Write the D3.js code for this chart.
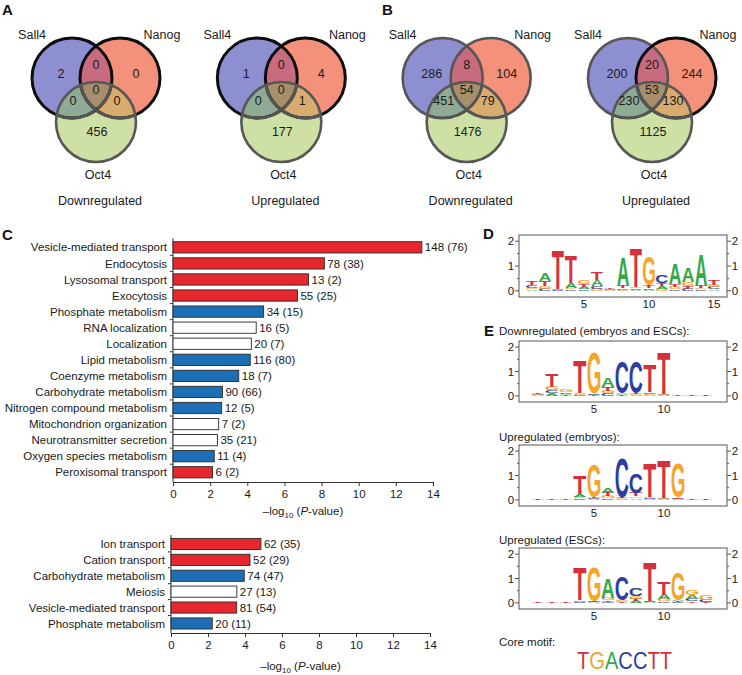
<!DOCTYPE html>
<html><head><meta charset="utf-8">
<script src="https://cdn.jsdelivr.net/npm/d3@7"></script>
<style>
body{margin:0;background:#fff;}
svg{display:block;font-family:"Liberation Sans",Arial,Helvetica,sans-serif;}
</style></head><body>
<svg id="fig" width="742" height="675"></svg>
<script>
// ---------------- DATA ----------------
const vennSets = ["Sall4", "Nanog", "Oct4"];
const vennTitles = ["Downregulated", "Upregulated", "Downregulated", "Upregulated"];
// region order: Sall4 only, Nanog only, Oct4 only, Sall4∩Nanog, Sall4∩Oct4, Nanog∩Oct4, all three
const vennCounts = [
  [2, 0, 456, 0, 0, 0, 0],
  [1, 4, 177, 0, 0, 1, 0],
  [286, 104, 1476, 8, 451, 79, 54],
  [200, 244, 1125, 20, 230, 130, 53]
];
const vennHighlighted = [["Sall4", "Nanog"], ["Sall4", "Nanog"], [], ["Nanog"]];

const goDownTerms = ["Vesicle-mediated transport", "Endocytosis", "Lysosomal transport", "Exocytosis",
  "Phosphate metabolism", "RNA localization", "Localization", "Lipid metabolism", "Coenzyme metabolism",
  "Carbohydrate metabolism", "Nitrogen compound metabolism", "Mitochondrion organization",
  "Neurotransmitter secretion", "Oxygen species metabolism", "Peroxisomal transport"];
const goDownLogP = [13.4, 8.15, 7.3, 6.7, 4.88, 4.48, 4.22, 4.16, 3.54, 2.66, 2.62, 2.46, 2.39, 2.22, 2.13];
const goDownGenes = ["148 (76)", "78 (38)", "13 (2)", "55 (25)", "34 (15)", "16 (5)", "20 (7)", "116 (80)",
  "18 (7)", "90 (66)", "12 (5)", "7 (2)", "35 (21)", "11 (4)", "6 (2)"];
const goDownGroup = ["transport", "transport", "transport", "transport", "metabolism", "other", "other",
  "metabolism", "metabolism", "metabolism", "metabolism", "other", "other", "metabolism", "transport"];

const goUpTerms = ["Ion transport", "Cation transport", "Carbohydrate metabolism", "Meiosis",
  "Vesicle-mediated transport", "Phosphate metabolism"];
const goUpLogP = [4.86, 4.27, 3.96, 3.56, 3.55, 2.23];
const goUpGenes = ["62 (35)", "52 (29)", "74 (47)", "27 (13)", "81 (54)", "20 (11)"];
const goUpGroup = ["transport", "transport", "metabolism", "other", "transport", "metabolism"];

const xTickValues = [0, 2, 4, 6, 8, 10, 12, 14];

const logoLetters = ["A", "C", "G", "T"];
// information content (bits) per position: [A, C, G, T]
const logoD = [
  [0.06, 0.12, 0.06, 0.13], [0.33, 0.08, 0.10, 0.20], [0.03, 0.02, 0.02, 1.58], [0.20, 0.06, 0.06, 1.10],
  [0.10, 0.06, 0.14, 0.10], [0.25, 0.10, 0.08, 0.30], [0.02, 0.02, 0.02, 0.02], [1.15, 0.06, 0.04, 0.10],
  [0.05, 0.05, 0.05, 1.55], [0.05, 0.05, 1.15, 0.10], [0.10, 0.30, 0.08, 0.12], [0.85, 0.06, 0.08, 0.12],
  [0.55, 0.08, 0.15, 0.12], [1.25, 0.06, 0.06, 0.08], [0.06, 0.08, 0.10, 0.18]
];
const logoDown = [
  [0.02, 0.02, 0.02, 0.02], [0.10, 0.12, 0.14, 0.50], [0.05, 0.06, 0.12, 0.04], [0.05, 0.04, 0.04, 1.35],
  [0.03, 0.03, 1.68, 0.02], [0.35, 0.10, 0.10, 0.15], [0.04, 1.28, 0.04, 0.03], [0.03, 1.28, 0.04, 0.04],
  [0.04, 0.06, 0.05, 1.10], [0.02, 0.02, 0.02, 1.70], [0, 0, 0, 0.03], [0, 0, 0, 0.03], [0, 0, 0, 0.03]
];
const logoUpEmbryo = [
  [0, 0, 0, 0.03], [0, 0, 0, 0.03], [0, 0, 0, 0.03], [0.12, 0.06, 0.06, 0.75],
  [0.03, 0.04, 1.35, 0.04], [0.22, 0.07, 0.08, 0.14], [0.03, 1.60, 0.03, 0.03], [0.07, 0.78, 0.07, 0.13],
  [0.03, 0.03, 0.04, 1.40], [0.02, 0.03, 0.03, 1.55], [0.02, 0.03, 1.38, 0.03], [0, 0, 0, 0.03], [0, 0, 0, 0.03]
];
const logoUpESC = [
  [0, 0, 0, 0.03], [0, 0, 0, 0.03], [0, 0, 0, 0.03], [0.06, 0.02, 0.03, 1.32],
  [0.02, 0.02, 1.38, 0.02], [0.78, 0.05, 0.12, 0.05], [0.04, 0.94, 0.06, 0.02], [0.08, 0.30, 0.10, 0.08],
  [0.02, 0.03, 0.02, 1.60], [0.18, 0.06, 0.08, 0.55], [0.05, 0.03, 1.15, 0.04], [0.17, 0.10, 0.19, 0.07],
  [0.03, 0.08, 0.20, 0.02]
];
const logoTitles = ["Downregulated (embryos and ESCs):", "Upregulated (embryos):", "Upregulated (ESCs):"];
const coreMotif = "TGACCTT";

// ---------------- STYLE ----------------
const FONT = '"Liberation Sans",Arial,Helvetica,sans-serif';
const regionColors = ["#8e8fd1", "#f4917b", "#cfe0a5", "#c96b7e", "#8fab95", "#d9ab6d", "#a88f6b"];
const groupColor = { transport: "#e8262d", metabolism: "#1c6fb7", other: "#ffffff" };
const letterColor = { A: "#35a94a", C: "#2c3e9e", G: "#f5a52a", T: "#d6303c" };

const svg = d3.select("#fig");
let uid = 0;

function panelLetter(t, x, y) {
  svg.append("text").attr("x", x).attr("y", y).attr("font-size", 15).attr("font-weight", "bold")
    .attr("fill", "#111").text(t);
}

// ---------------- VENN (A, B) ----------------
panelLetter("A", 2, 15);
panelLetter("B", 382, 15);

const vennX = d3.scalePoint().domain(d3.range(vennCounts.length)).range([96, 652]);
const R = 40;
const circleOffsets = { Sall4: [-24, 78], Nanog: [24, 78], Oct4: [0, 122] };
const regionPos = [[-35, 73], [40, 73], [1, 131], [0, 64], [-23, 100], [21, 100], [0, 89]];
const defs = svg.append("defs");

vennCounts.forEach((counts, i) => {
  const cx = vennX(i);
  const g = svg.append("g");
  const ids = {};
  vennSets.forEach(s => {
    const id = "clip" + (uid++);
    ids[s] = id;
    defs.append("clipPath").attr("id", id).append("circle")
      .attr("cx", cx + circleOffsets[s][0]).attr("cy", circleOffsets[s][1]).attr("r", R);
  });
  const circ = (sel, s) => sel.append("circle").attr("cx", cx + circleOffsets[s][0])
    .attr("cy", circleOffsets[s][1]).attr("r", R);
  circ(g, "Sall4").attr("fill", regionColors[0]);
  circ(g, "Nanog").attr("fill", regionColors[1]);
  circ(g, "Nanog").attr("fill", regionColors[3]).attr("clip-path", `url(#${ids.Sall4})`);
  circ(g, "Oct4").attr("fill", regionColors[2]);
  circ(g, "Oct4").attr("fill", regionColors[4]).attr("clip-path", `url(#${ids.Sall4})`);
  circ(g, "Oct4").attr("fill", regionColors[5]).attr("clip-path", `url(#${ids.Nanog})`);
  circ(g.append("g").attr("clip-path", `url(#${ids.Sall4})`), "Oct4")
    .attr("fill", regionColors[6]).attr("clip-path", `url(#${ids.Nanog})`);
  ["Sall4", "Nanog"].forEach(s => {
    const hi = vennHighlighted[i].includes(s);
    circ(g, s).attr("fill", "none").attr("stroke", hi ? "#0d0d0d" : "#565656").attr("stroke-width", hi ? 3 : 2.6);
    circ(g, s).attr("fill", "none").attr("stroke", "#555").attr("stroke-width", hi ? 3 : 2.6)
      .attr("clip-path", `url(#${ids.Oct4})`);
  });
  circ(g, "Oct4").attr("fill", "none").attr("stroke", "#575757").attr("stroke-width", 2.6);

  counts.forEach((c, k) => {
    g.append("text").attr("x", cx + regionPos[k][0]).attr("y", regionPos[k][1])
      .attr("dy", "0.36em").attr("text-anchor", "middle").attr("font-size", 12.5)
      .attr("fill", "#1a1a1a").text(c);
  });
  g.append("text").attr("x", cx - 64).attr("y", 39).attr("text-anchor", "middle")
    .attr("font-size", 12.5).attr("fill", "#1a1a1a").text(vennSets[0]);
  g.append("text").attr("x", cx + 66).attr("y", 39).attr("text-anchor", "middle")
    .attr("font-size", 12.5).attr("fill", "#1a1a1a").text(vennSets[1]);
  g.append("text").attr("x", cx + 2).attr("y", 179).attr("text-anchor", "middle")
    .attr("font-size", 12.5).attr("fill", "#1a1a1a").text(vennSets[2]);
  g.append("text").attr("x", cx + 4).attr("y", 205).attr("text-anchor", "middle")
    .attr("font-size", 12.5).attr("fill", "#1a1a1a").text(vennTitles[i]);
});

// ---------------- BAR CHARTS (C) ----------------
panelLetter("C", 2, 240);

function barChart(terms, vals, genes, groups, xRange, yRange, axisY, titleY) {
  const x = d3.scaleLinear().domain([0, 14]).range(xRange);
  const y = d3.scaleBand().domain(terms).range(yRange).paddingInner(0.3).paddingOuter(0.15);
  const g = svg.append("g");
  const step = y.step();
  g.append("line").attr("x1", x(0)).attr("x2", x(0)).attr("y1", yRange[0] - 1).attr("y2", axisY)
    .attr("stroke", "#333").attr("stroke-width", 1);
  terms.forEach((t, i) => {
    if (i === 0) return;
    const yy = y(t) - (step - y.bandwidth()) / 2;
    g.append("line").attr("x1", x(0) - 3).attr("x2", x(0)).attr("y1", yy).attr("y2", yy)
      .attr("stroke", "#333").attr("stroke-width", 1);
  });
  g.selectAll("rect.bar").data(terms).join("rect").attr("class", "bar")
    .attr("x", x(0)).attr("y", t => y(t))
    .attr("width", (t, i) => x(vals[i]) - x(0)).attr("height", y.bandwidth())
    .attr("fill", (t, i) => groupColor[groups[i]]).attr("stroke", "#2a2a2a").attr("stroke-width", 0.9);
  g.selectAll("text.lab").data(terms).join("text").attr("class", "lab")
    .attr("x", x(0) - 6).attr("y", t => y(t) + y.bandwidth() / 2).attr("dy", "0.36em")
    .attr("text-anchor", "end").attr("font-size", 11.5).attr("fill", "#1a1a1a").text(t => t);
  g.selectAll("text.val").data(terms).join("text").attr("class", "val")
    .attr("x", (t, i) => x(vals[i]) + 3).attr("y", t => y(t) + y.bandwidth() / 2).attr("dy", "0.36em")
    .attr("font-size", 11.5).attr("fill", "#1a1a1a").text((t, i) => genes[i]);
  const ax = g.append("g").attr("transform", `translate(0,${axisY})`)
    .call(d3.axisBottom(x).tickValues(xTickValues).tickSize(4).tickPadding(4).tickSizeOuter(0));
  ax.select(".domain").attr("stroke", "#333");
  ax.selectAll(".tick line").attr("stroke", "#333");
  ax.selectAll(".tick text").attr("font-size", 11.5).attr("font-family", FONT).attr("fill", "#1a1a1a");
  const tt = g.append("text").attr("x", (xRange[0] + xRange[1]) / 2).attr("y", titleY)
    .attr("text-anchor", "middle").attr("font-size", 11.5).attr("fill", "#1a1a1a");
  tt.append("tspan").text("\u2013log");
  tt.append("tspan").attr("font-size", 8).attr("dy", 3).text("10");
  tt.append("tspan").attr("dy", -3).text(" (");
  tt.append("tspan").attr("font-style", "italic").text("P");
  tt.append("tspan").text("-value)");
}
barChart(goDownTerms, goDownLogP, goDownGenes, goDownGroup, [173, 433], [239.3, 480.3], 482, 515);
barChart(goUpTerms, goUpLogP, goUpGenes, goUpGroup, [171, 430], [536, 631.4], 633, 670);

// ---------------- SEQUENCE LOGOS (D, E) ----------------
panelLetter("D", 483, 239);
panelLetter("E", 484, 336);

const ctx = document.createElement("canvas").getContext("2d");
ctx.font = `bold 100px ${FONT}`;
const glyph = {};
logoLetters.forEach(L => {
  const m = ctx.measureText(L);
  glyph[L] = { l: m.actualBoundingBoxLeft, r: m.actualBoundingBoxRight,
    a: m.actualBoundingBoxAscent, d: m.actualBoundingBoxDescent };
});

function drawLogo(data, xDomain, boxTop, boxBottom, labelTicks) {
  const g = svg.append("g");
  const x = d3.scaleLinear().domain(xDomain).range([519, 727]);
  const y = d3.scaleLinear().domain([-0.25, 2.25]).range([boxBottom, boxTop]);
  const w = (x(1) - x(0)) * 0.92;
  data.forEach((vals, i) => {
    const pos = i + 1;
    const order = logoLetters.map((L, k) => ({ L, h: vals[k] })).filter(d => d.h > 0)
      .sort((a, b) => a.h - b.h);
    let base = 0;
    order.forEach(d => {
      const yb = y(base), yt = y(base + d.h);
      const hp = Math.max(yb - yt, 0.6);
      const gm = glyph[d.L];
      const sx = w / (gm.l + gm.r), sy = hp / (gm.a + gm.d);
      const x0 = x(pos) - w / 2;
      g.append("text").attr("font-size", 100).attr("font-weight", "bold").attr("font-family", FONT)
        .attr("fill", letterColor[d.L])
        .attr("transform", `translate(${x0 + gm.l * sx},${yb - gm.d * sy}) scale(${sx},${sy})`)
        .text(d.L);
      base += d.h;
    });
  });
  g.append("rect").attr("x", 519).attr("y", boxTop).attr("width", 208).attr("height", boxBottom - boxTop)
    .attr("fill", "none").attr("stroke", "#555").attr("stroke-width", 1);
  [0, 0.5, 1, 1.5, 2].forEach(v => {
    const major = Number.isInteger(v);
    const len = major ? 4 : 2;
    g.append("line").attr("x1", 519 - len).attr("x2", 519).attr("y1", y(v)).attr("y2", y(v))
      .attr("stroke", "#555");
    g.append("line").attr("x1", 727).attr("x2", 727 + len).attr("y1", y(v)).attr("y2", y(v))
      .attr("stroke", "#555");
    if (major) {
      g.append("text").attr("x", 511).attr("y", y(v)).attr("dy", "0.36em").attr("text-anchor", "middle")
        .attr("font-size", 11.5).attr("fill", "#1a1a1a").text(v);
      g.append("text").attr("x", 735).attr("y", y(v)).attr("dy", "0.36em").attr("text-anchor", "middle")
        .attr("font-size", 11.5).attr("fill", "#1a1a1a").text(v);
    }
  });
  labelTicks.forEach(p => {
    g.append("text").attr("x", x(p)).attr("y", boxBottom + 11).attr("text-anchor", "middle")
      .attr("font-size", 11.5).attr("fill", "#1a1a1a").text(p);
  });
}
drawLogo(logoD, [0, 16], 235, 297, [5, 10, 15]);
drawLogo(logoDown, [-0.35, 14.5], 341, 402, [5, 10]);
drawLogo(logoUpEmbryo, [-0.35, 14.5], 445, 506, [5, 10]);
drawLogo(logoUpESC, [-0.35, 14.5], 548, 609, [5, 10]);

const titleYs = [335, 441, 544];
logoTitles.forEach((t, i) => {
  svg.append("text").attr("x", 499).attr("y", titleYs[i]).attr("font-size", 11.5).attr("fill", "#1a1a1a").text(t);
});
svg.append("text").attr("x", 499).attr("y", 646).attr("font-size", 11.5).attr("fill", "#1a1a1a").text("Core motif:");
const core = svg.append("text").attr("x", 577).attr("y", 669).attr("font-size", 24)
  .attr("font-family", '"Liberation Sans Narrow","Arial Narrow",' + FONT)
  .attr("textLength", 95).attr("lengthAdjust", "spacingAndGlyphs");
coreMotif.split("").forEach(ch => core.append("tspan").attr("fill", letterColor[ch]).text(ch));
</script>
</body></html>
